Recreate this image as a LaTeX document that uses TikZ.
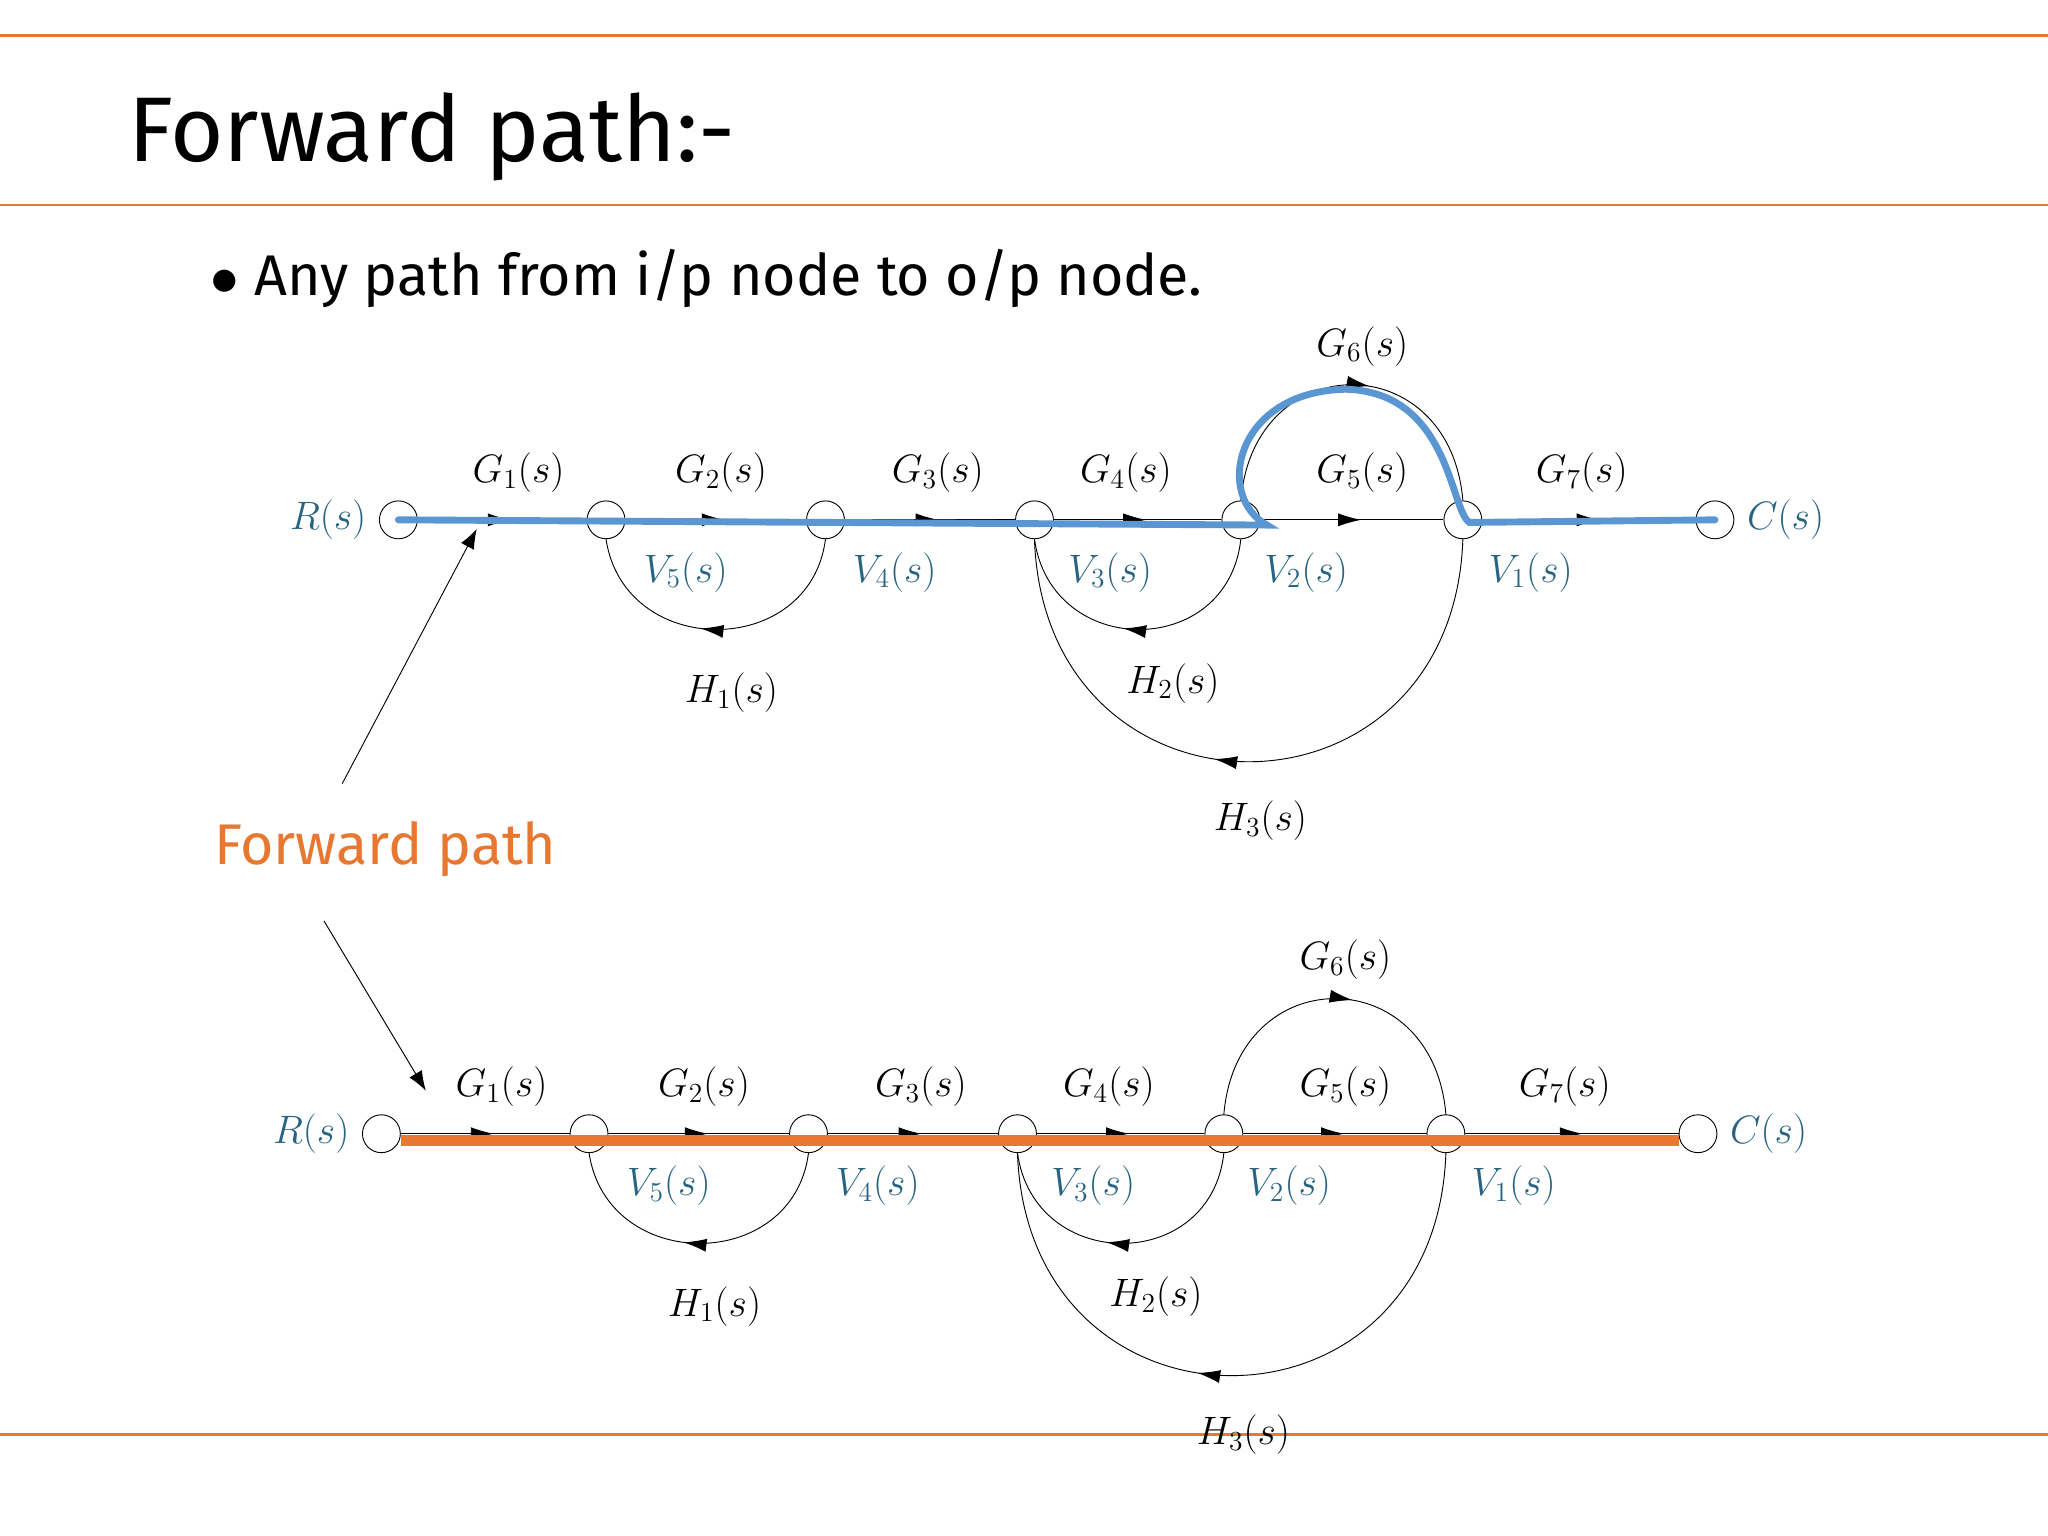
\documentclass[tikz,border=0pt]{standalone}
\usepackage{fontspec}
\usepackage{tikz}
\usetikzlibrary{positioning, arrows.meta, decorations.markings}
\newfontfamily\slidefont{Fira Sans}
\definecolor{slideorange}{RGB}{230,120,50}
\definecolor{pathblue}{RGB}{90,150,210}
\definecolor{teal}{RGB}{40,100,130}
\begin{document}
\begin{tikzpicture}[x=0.02cm, y=-0.02cm,
    sn/.style={draw, circle, minimum size=0.58cm, inner sep=0pt, fill=white},
    lab/.style={font=\fontsize{17}{20}\selectfont},
    vlab/.style={lab, text=teal},
    br/.style={thin, postaction={decorate}, decoration={markings,
        mark=at position 0.55 with {\arrow{Latex[length=3.5mm, width=2mm]}}}}]
    \useasboundingbox (0,0) rectangle (1568,1176);
    % slide frame
    \draw [slideorange, line width=1.2pt] (0,27) -- (1568,27);
    \draw [slideorange, line width=1.2pt] (0,157) -- (1568,157);
    \draw [slideorange, line width=1.2pt] (0,1098) -- (1568,1098);
    \node [anchor=west, font=\slidefont\fontsize{40}{46}\selectfont] (title) at (92,105) {Forward path:-};
    \node [anchor=west, font=\slidefont\fontsize{25}{30}\selectfont] (bullet) at (155,213) {$\bullet$ Any path from i/p node to o/p node.};

    \foreach \p/\dx/\dy in {t/0/0, b/-13/470} {
        \begin{scope}[shift={(\dx,\dy)}]
            % branches first, nodes on top
            \node [sn] (\p R) at (305,398) {};
            \node [sn] (\p V5) at (464,398) {};
            \node [sn] (\p V4) at (632,398) {};
            \node [sn] (\p V3) at (792,398) {};
            \node [sn] (\p V2) at (950,398) {};
            \node [sn] (\p V1) at (1120,398) {};
            \node [sn] (\p C) at (1313,398) {};

            \draw [br] (\p R) -- (\p V5);
            \draw [br] (\p V5) -- (\p V4);
            \draw [br] (\p V4) -- (\p V3);
            \draw [br] (\p V3) -- (\p V2);
            \draw [br] (\p V2) -- (\p V1);
            \draw [br] (\p V1) -- (\p C);
            \draw [br] (\p V4.south) .. controls (620,505) and (478,505) .. (\p V5.south);
            \draw [br] (\p V2.south) .. controls (940,505) and (805,505) .. (\p V3.south);
            \draw [br] (\p V1.south) .. controls (1112,640) and (800,640) .. (\p V3.south);
            \draw [br] (\p V2.north) .. controls (960,265) and (1110,265) .. (\p V1.north);

            \node [vlab, left=2pt of \p R] (\p Rl) {$R(s)$};
            \node [vlab, right=2pt of \p C] (\p Cl) {$C(s)$};
            \node [lab] (\p G1) at (397,362) {$G_1(s)$};
            \node [lab] (\p G2) at (552,362) {$G_2(s)$};
            \node [lab] (\p G3) at (718,362) {$G_3(s)$};
            \node [lab] (\p G4) at (862,362) {$G_4(s)$};
            \node [lab] (\p G5) at (1043,362) {$G_5(s)$};
            \node [lab] (\p G6) at (1043,265) {$G_6(s)$};
            \node [lab] (\p G7) at (1211,362) {$G_7(s)$};
            \node [vlab] (\p V5l) at (525,438) {$V_5(s)$};
            \node [vlab] (\p V4l) at (685,438) {$V_4(s)$};
            \node [vlab] (\p V3l) at (850,438) {$V_3(s)$};
            \node [vlab] (\p V2l) at (1000,438) {$V_2(s)$};
            \node [vlab] (\p V1l) at (1172,438) {$V_1(s)$};
            \node [lab] (\p H1) at (560,530) {$H_1(s)$};
            \node [lab] (\p H2) at (898,523) {$H_2(s)$};
            \node [lab] (\p H3) at (965,628) {$H_3(s)$};
        \end{scope}
    }

    % highlighted paths
    \draw [pathblue, line width=3pt, line cap=round] (tR.center) -- (970,402)
        .. controls (930,380) and (945,300) .. (1030,298)
        .. controls (1110,300) and (1110,390) .. (1125,400)
        -- (tC.center);
    \draw [slideorange, line width=5pt] ([yshift=-0.1cm]bR.east) -- ([yshift=-0.1cm]bC.west);

    \node [text=slideorange, font=\slidefont\fontsize{25}{30}\selectfont] (fp) at (295,650) {Forward path};
    \coordinate (fpt) at (262,600);
    \coordinate (fpb) at (248,705);
    \draw [-{Latex[length=3mm]}] (fpt) -- (365,405);
    \draw [-{Latex[length=3mm]}] (fpb) -- (326,835);
\end{tikzpicture}
\end{document}
